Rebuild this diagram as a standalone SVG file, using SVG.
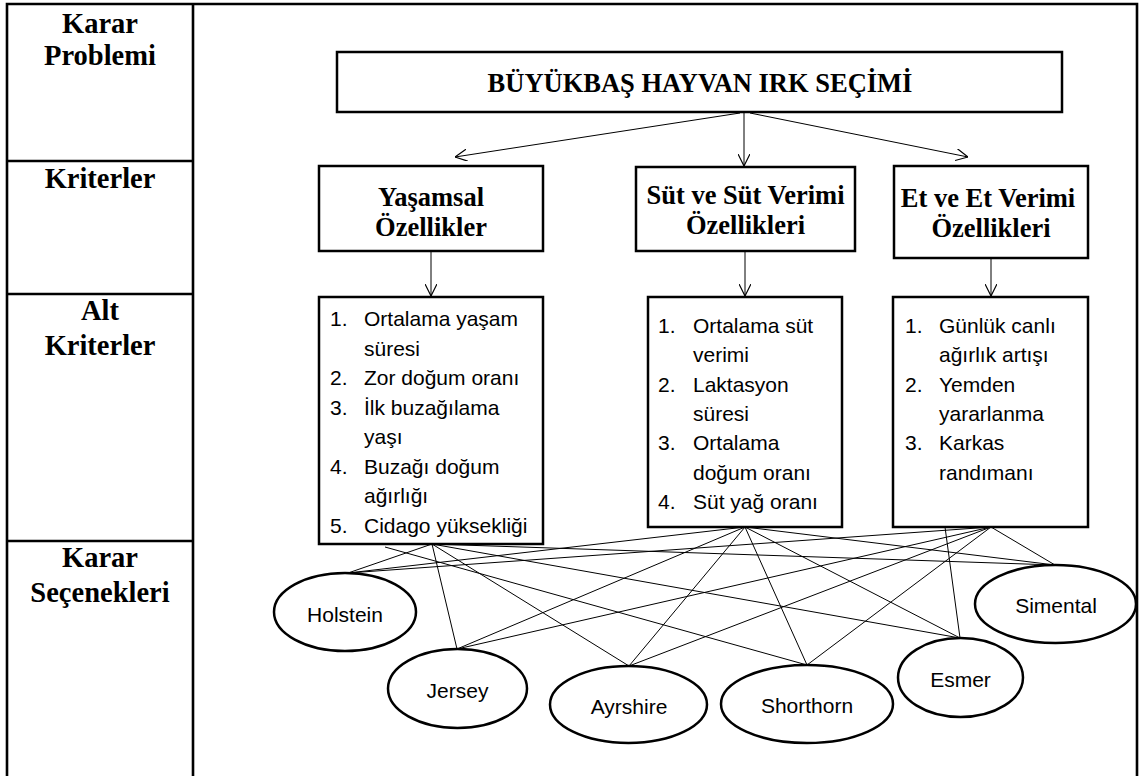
<svg xmlns="http://www.w3.org/2000/svg" width="1139" height="776" viewBox="0 0 1139 776">
<style>
.frame{fill:none;stroke:#000;stroke-width:2.6}
.box{fill:#fff;stroke:#000;stroke-width:2.5}
.ell{fill:#fff;stroke:#000;stroke-width:2.5}
.lbl{font-family:"Liberation Serif","Times New Roman",serif;font-weight:bold;font-size:28.5px;text-anchor:middle;fill:#000}
.ttl{font-family:"Liberation Serif","Times New Roman",serif;font-weight:bold;font-size:26.5px;text-anchor:middle;fill:#000}
.crit{font-family:"Liberation Serif","Times New Roman",serif;font-weight:bold;font-size:26.5px;text-anchor:middle;fill:#000}
.sub{font-family:"Liberation Sans",Arial,sans-serif;font-size:21px;fill:#000}
.alt{font-family:"Liberation Sans",Arial,sans-serif;font-size:21px;text-anchor:middle;fill:#000}
.con{stroke:#000;stroke-width:1;fill:none}
.arr{stroke:#000;stroke-width:1;fill:none;marker-end:url(#ah)}
</style>
<defs>
<marker id="ah" markerWidth="12" markerHeight="12" refX="10" refY="5" orient="auto" markerUnits="userSpaceOnUse" viewBox="0 0 10 10">
<path d="M0,0 L10,5 L0,10" fill="none" stroke="#000" stroke-width="1"/>
</marker>
</defs>
<rect width="1139" height="776" fill="#fff"/>
<g id="table">
<path class="frame" d="M7,780 L7,4 L1137,4 L1137,780"/>
<line class="frame" x1="193" y1="4" x2="193" y2="780"/>
<line class="frame" x1="7" y1="161" x2="193" y2="161"/>
<line class="frame" x1="7" y1="294" x2="193" y2="294"/>
<line class="frame" x1="7" y1="541" x2="193" y2="541"/>
<text class="lbl" x="100" y="33">Karar</text>
<text class="lbl" x="100" y="65">Problemi</text>
<text class="lbl" x="100" y="188">Kriterler</text>
<text class="lbl" x="100" y="320">Alt</text>
<text class="lbl" x="100" y="355">Kriterler</text>
<text class="lbl" x="100" y="567">Karar</text>
<text class="lbl" x="100" y="602">Seçenekleri</text>
</g>
<g id="connectors">
<line class="arr" x1="740" y1="113" x2="455" y2="157"/>
<line class="arr" x1="744" y1="113" x2="744" y2="166"/>
<line class="arr" x1="750" y1="113" x2="968" y2="157"/>
<line class="arr" x1="431" y1="251" x2="431" y2="296"/>
<line class="arr" x1="745" y1="251" x2="745" y2="296"/>
<line class="arr" x1="991" y1="258" x2="991" y2="296"/>
<line class="con" x1="432" y1="544" x2="348" y2="573"/>
<line class="con" x1="432" y1="544" x2="457" y2="649"/>
<line class="con" x1="432" y1="544" x2="629" y2="666"/>
<line class="con" x1="385" y1="547" x2="807" y2="665"/>
<line class="con" x1="432" y1="544" x2="960" y2="638"/>
<line class="con" x1="432" y1="544" x2="1055" y2="565"/>
<line class="con" x1="745" y1="527" x2="348" y2="573"/>
<line class="con" x1="745" y1="527" x2="457" y2="649"/>
<line class="con" x1="745" y1="527" x2="629" y2="666"/>
<line class="con" x1="745" y1="527" x2="807" y2="665"/>
<line class="con" x1="745" y1="527" x2="960" y2="638"/>
<line class="con" x1="745" y1="527" x2="1055" y2="565"/>
<line class="con" x1="991" y1="527" x2="348" y2="573"/>
<line class="con" x1="991" y1="527" x2="457" y2="649"/>
<line class="con" x1="991" y1="527" x2="629" y2="666"/>
<line class="con" x1="991" y1="527" x2="807" y2="665"/>
<line class="con" x1="945" y1="527" x2="960" y2="638"/>
<line class="con" x1="991" y1="527" x2="1055" y2="565"/>
</g>
<g id="goal">
<rect class="box" x="337" y="52" width="725" height="60"/>
<text class="ttl" x="700" y="92">BÜYÜKBAŞ HAYVAN IRK SEÇİMİ</text>
</g>
<g id="crit-yasamsal">
<rect class="box" x="319" y="166" width="224" height="85"/>
<text class="crit" x="431" y="206">Yaşamsal</text>
<text class="crit" x="431" y="236">Özellikler</text>
</g>
<g id="crit-sut">
<rect class="box" x="636" y="167" width="219" height="84"/>
<text class="crit" x="745.5" y="204">Süt ve Süt Verimi</text>
<text class="crit" x="745.5" y="234">Özellikleri</text>
</g>
<g id="crit-et">
<rect class="box" x="894" y="166" width="194" height="92"/>
<text class="crit" x="988" y="207">Et ve Et Verimi</text>
<text class="crit" x="991" y="237">Özellikleri</text>
</g>
<g id="sub-yasamsal">
<rect class="box" x="319" y="297" width="224" height="247"/>
<text class="sub" x="330" y="326">1.</text><text class="sub" x="364" y="326">Ortalama yaşam</text>
<text class="sub" x="364" y="355.5">süresi</text>
<text class="sub" x="330" y="385">2.</text><text class="sub" x="364" y="385">Zor doğum oranı</text>
<text class="sub" x="330" y="414.5">3.</text><text class="sub" x="364" y="414.5">İlk buzağılama</text>
<text class="sub" x="364" y="444">yaşı</text>
<text class="sub" x="330" y="473.5">4.</text><text class="sub" x="364" y="473.5">Buzağı doğum</text>
<text class="sub" x="364" y="503">ağırlığı</text>
<text class="sub" x="330" y="532.5">5.</text><text class="sub" x="364" y="532.5">Cidago yüksekliği</text>
</g>
<g id="sub-sut">
<rect class="box" x="648" y="297" width="194" height="230"/>
<text class="sub" x="658" y="333">1.</text><text class="sub" x="693" y="333">Ortalama süt</text>
<text class="sub" x="693" y="362">verimi</text>
<text class="sub" x="658" y="391.5">2.</text><text class="sub" x="693" y="391.5">Laktasyon</text>
<text class="sub" x="693" y="421">süresi</text>
<text class="sub" x="658" y="450">3.</text><text class="sub" x="693" y="450">Ortalama</text>
<text class="sub" x="693" y="479.5">doğum oranı</text>
<text class="sub" x="658" y="508.5">4.</text><text class="sub" x="693" y="508.5">Süt yağ oranı</text>
</g>
<g id="sub-et">
<rect class="box" x="893" y="297" width="195" height="230"/>
<text class="sub" x="905" y="333">1.</text><text class="sub" x="939" y="333">Günlük canlı</text>
<text class="sub" x="939" y="362">ağırlık artışı</text>
<text class="sub" x="905" y="391.5">2.</text><text class="sub" x="939" y="391.5">Yemden</text>
<text class="sub" x="939" y="421">yararlanma</text>
<text class="sub" x="905" y="450">3.</text><text class="sub" x="939" y="450">Karkas</text>
<text class="sub" x="939" y="479.5">randımanı</text>
</g>
<g id="alt-holstein">
<ellipse class="ell" cx="345" cy="612" rx="71" ry="39"/>
<text class="alt" x="345" y="622">Holstein</text>
</g>
<g id="alt-jersey">
<ellipse class="ell" cx="457.5" cy="688.5" rx="69.5" ry="39.5"/>
<text class="alt" x="457.5" y="698">Jersey</text>
</g>
<g id="alt-ayrshire">
<ellipse class="ell" cx="628.5" cy="704.5" rx="78.5" ry="38.5"/>
<text class="alt" x="629" y="714">Ayrshire</text>
</g>
<g id="alt-shorthorn">
<ellipse class="ell" cx="807" cy="704" rx="86" ry="39"/>
<text class="alt" x="807" y="713">Shorthorn</text>
</g>
<g id="alt-esmer">
<ellipse class="ell" cx="960.5" cy="677.5" rx="62.5" ry="39.5"/>
<text class="alt" x="960.5" y="687">Esmer</text>
</g>
<g id="alt-simental">
<ellipse class="ell" cx="1055.5" cy="604" rx="80.5" ry="39"/>
<text class="alt" x="1056" y="613">Simental</text>
</g>
</svg>
